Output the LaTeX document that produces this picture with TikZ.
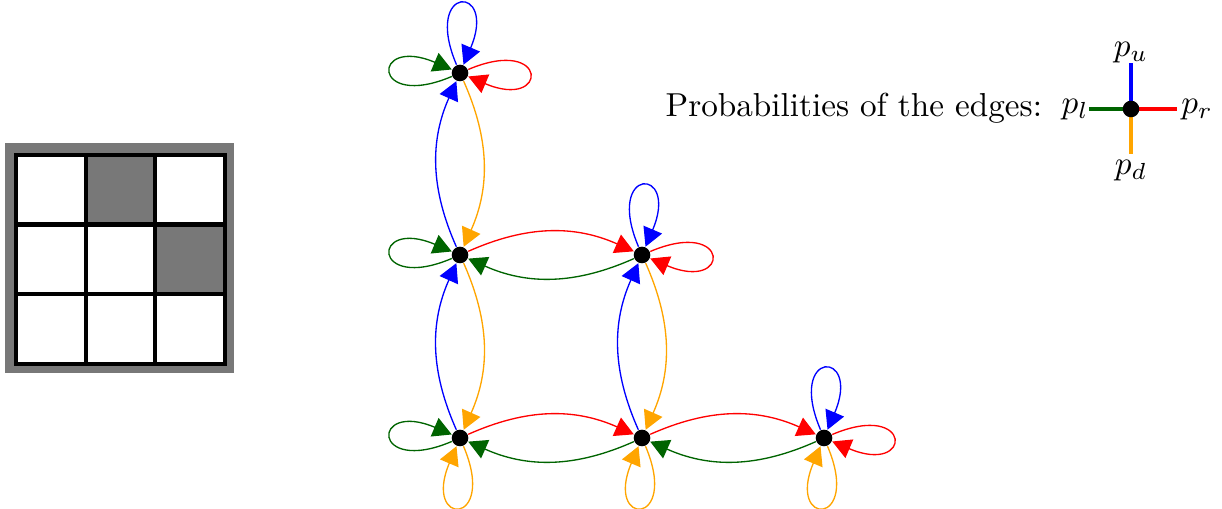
\documentclass[tikz,border=0pt]{standalone}
\usetikzlibrary{arrows.meta}
\definecolor{cblue}{RGB}{0,0,255}
\definecolor{cred}{RGB}{255,0,0}
\definecolor{cgreen}{RGB}{0,100,0}
\definecolor{corange}{RGB}{255,165,0}
\definecolor{cgrey}{RGB}{120,120,120}
\begin{document}
\begin{tikzpicture}[x=0.3012pt,y=0.3012pt,
  vtx/.style={circle,fill=black,inner sep=0pt,minimum size=5pt},
  arr/.style={-{Triangle[length=5.6pt,width=6pt]},line width=0.4pt},
  eb/.style={arr,bend left=24},
  lup/.style={arr,out=113,in=67,distance=26.5pt},
  ldown/.style={arr,out=293,in=247,distance=26.5pt},
  lleft/.style={arr,out=203,in=157,distance=26.5pt},
  lright/.style={arr,out=23,in=-23,distance=26.5pt},
  leg/.style={line width=1pt},
  gline/.style={line width=1.3pt,black}]
\useasboundingbox (0,0) rectangle (1222,509);

% grid picture
\fill[cgrey] (5,136) rectangle (234,366);
\fill[white] (16,145) rectangle (225,354);
\fill[cgrey] (85.67,284.33) rectangle (155.33,354);
\fill[cgrey] (155.33,214.67) rectangle (225,284.33);
\draw[gline] (16,145) rectangle (225,354);
\draw[gline] (85.67,145) -- (85.67,354);
\draw[gline] (155.33,145) -- (155.33,354);
\draw[gline] (16,284.33) -- (225,284.33);
\draw[gline] (16,214.67) -- (225,214.67);

% graph nodes
\node[vtx] (A) at (460,436) {};
\node[vtx] (B) at (460,254) {};
\node[vtx] (C) at (642,254) {};
\node[vtx] (D) at (460,71) {};
\node[vtx] (E) at (642,71) {};
\node[vtx] (F) at (824,71) {};

% vertical edges
\draw[eb,cblue] (B) to (A);
\draw[eb,corange] (A) to (B);
\draw[eb,cblue] (D) to (B);
\draw[eb,corange] (B) to (D);
\draw[eb,cblue] (E) to (C);
\draw[eb,corange] (C) to (E);
% horizontal edges
\draw[eb,cred] (B) to (C);
\draw[eb,cgreen] (C) to (B);
\draw[eb,cred] (D) to (E);
\draw[eb,cgreen] (E) to (D);
\draw[eb,cred] (E) to (F);
\draw[eb,cgreen] (F) to (E);

% loops
\draw[lup,cblue] (A) to (A);
\draw[lleft,cgreen] (A) to (A);
\draw[lright,cred] (A) to (A);
\draw[lleft,cgreen] (B) to (B);
\draw[lup,cblue] (C) to (C);
\draw[lright,cred] (C) to (C);
\draw[lleft,cgreen] (D) to (D);
\draw[ldown,corange] (D) to (D);
\draw[ldown,corange] (E) to (E);
\draw[lup,cblue] (F) to (F);
\draw[lright,cred] (F) to (F);
\draw[ldown,corange] (F) to (F);

% legend
\node[anchor=base west,inner sep=0pt] (title) at (665,392) {Probabilities of the edges:};
\coordinate (Lc) at (1131,400);
\coordinate (Lu) at (1131,446);
\coordinate (Ld) at (1131,355);
\coordinate (Ll) at (1089,400);
\coordinate (Lr) at (1177,400);
\draw[leg,cblue] (Lc) -- (Lu);
\draw[leg,corange] (Lc) -- (Ld);
\draw[leg,cgreen] (Lc) -- (Ll);
\draw[leg,cred] (Lc) -- (Lr);
\node[vtx] (L) at (Lc) {};
\node (pu) at (1131,456) {$p_u$};
\node (pd) at (1131,338) {$p_d$};
\node (pl) at (1075,399) {$p_l$};
\node (pr) at (1197,399) {$p_r$};
\end{tikzpicture}
\end{document}
